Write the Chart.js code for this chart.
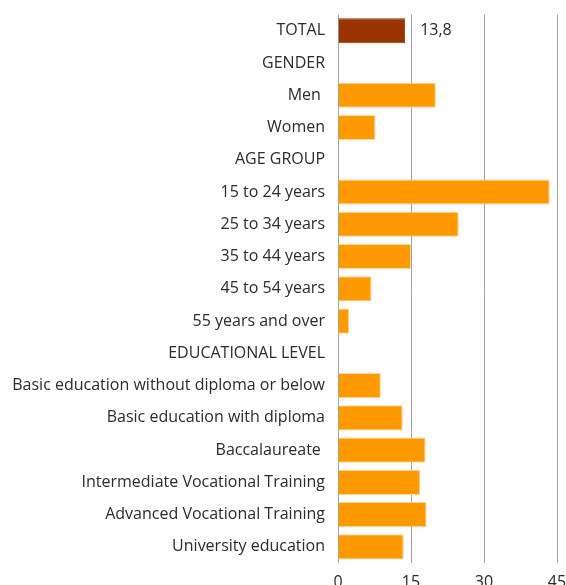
<!DOCTYPE html>
<html>
<head>
<meta charset="utf-8">
<script src="https://cdn.jsdelivr.net/npm/chart.js@4/dist/chart.umd.min.js"></script>
<style>
  html, body { margin: 0; padding: 0; background: #fff; overflow: hidden; }
  #wrap { width: 566px; height: 600px; }
</style>
</head>
<body>
<div id="wrap"><canvas id="chart" width="566" height="600"></canvas></div>
<script>
// Unemployment rate by group (%), header rows carry no value
const categories = [
  'TOTAL', 'GENDER', 'Men ', 'Women',
  'AGE GROUP', '15 to 24 years', '25 to 34 years', '35 to 44 years', '45 to 54 years', '55 years and over',
  'EDUCATIONAL LEVEL', 'Basic education without diploma or below', 'Basic education with diploma',
  'Baccalaureate ', 'Intermediate Vocational Training', 'Advanced Vocational Training', 'University education',
];
const values = [
  13.8, null, 20.1, 7.7,
  null, 43.5, 24.8, 15.0, 6.9, 2.3,
  null, 8.8, 13.3, 18.0, 16.9, 18.2, 13.5,
];
const xTicks = [0, 15, 30, 45];

const COLORS = {
  bar:    '#ff9900',
  rim:    '#ffd9a0',
  total:  '#993300',
  text:   '#2b2b2b',
  grid:   '#a3a3a3',
};

const FONT = "'Open Sans', sans-serif";

// value label printed next to the TOTAL bar only
const totalLabel = {
  id: 'totalLabel',
  afterDatasetsDraw(chart) {
    const meta = chart.getDatasetMeta(0);
    const bar = meta.data[0];
    const { ctx } = chart;
    ctx.save();
    ctx.font = `16px ${FONT}`;
    ctx.fillStyle = COLORS.text;
    ctx.textAlign = 'left';
    ctx.textBaseline = 'middle';
    ctx.fillText(values[0].toFixed(1).replace('.', ','), bar.x + 15, bar.y);
    ctx.restore();
  },
};

new Chart(document.getElementById('chart'), {
  type: 'bar',
  data: {
    labels: categories,
    datasets: [{
      data: values,
      backgroundColor: values.map((_, i) => i === 0 ? COLORS.total : COLORS.bar),
      borderColor: values.map((_, i) => i === 0 ? COLORS.total : COLORS.rim),
      borderWidth: 1,
      borderSkipped: 'start',
      barPercentage: 0.78,
      categoryPercentage: 1,
    }],
  },
  options: {
    indexAxis: 'y',
    responsive: false,
    animation: false,
    layout: { padding: { top: 4, right: 9, left: 0, bottom: 0 } },
    plugins: { legend: { display: false }, tooltip: { enabled: false } },
    scales: {
      x: {
        min: 0,
        max: 45,
        afterBuildTicks: scale => { scale.ticks = xTicks.map(v => ({ value: v })); },
        afterFit: scale => {
          scale.height = 37;
          scale.paddingLeft = 0;
          scale.paddingRight = 0;
        },
        grid: { color: COLORS.grid, lineWidth: 1, drawTicks: false },
        border: { display: false },
        ticks: { padding: 10, color: COLORS.text, font: { family: FONT, size: 16 } },
      },
      y: {
        afterFit: scale => { scale.width = 338; },
        grid: { display: false },
        border: { display: false },
        ticks: { padding: 5, color: COLORS.text, font: { family: FONT, size: 16 }, autoSkip: false },
      },
    },
  },
  plugins: [totalLabel],
});
</script>
</body>
</html>
